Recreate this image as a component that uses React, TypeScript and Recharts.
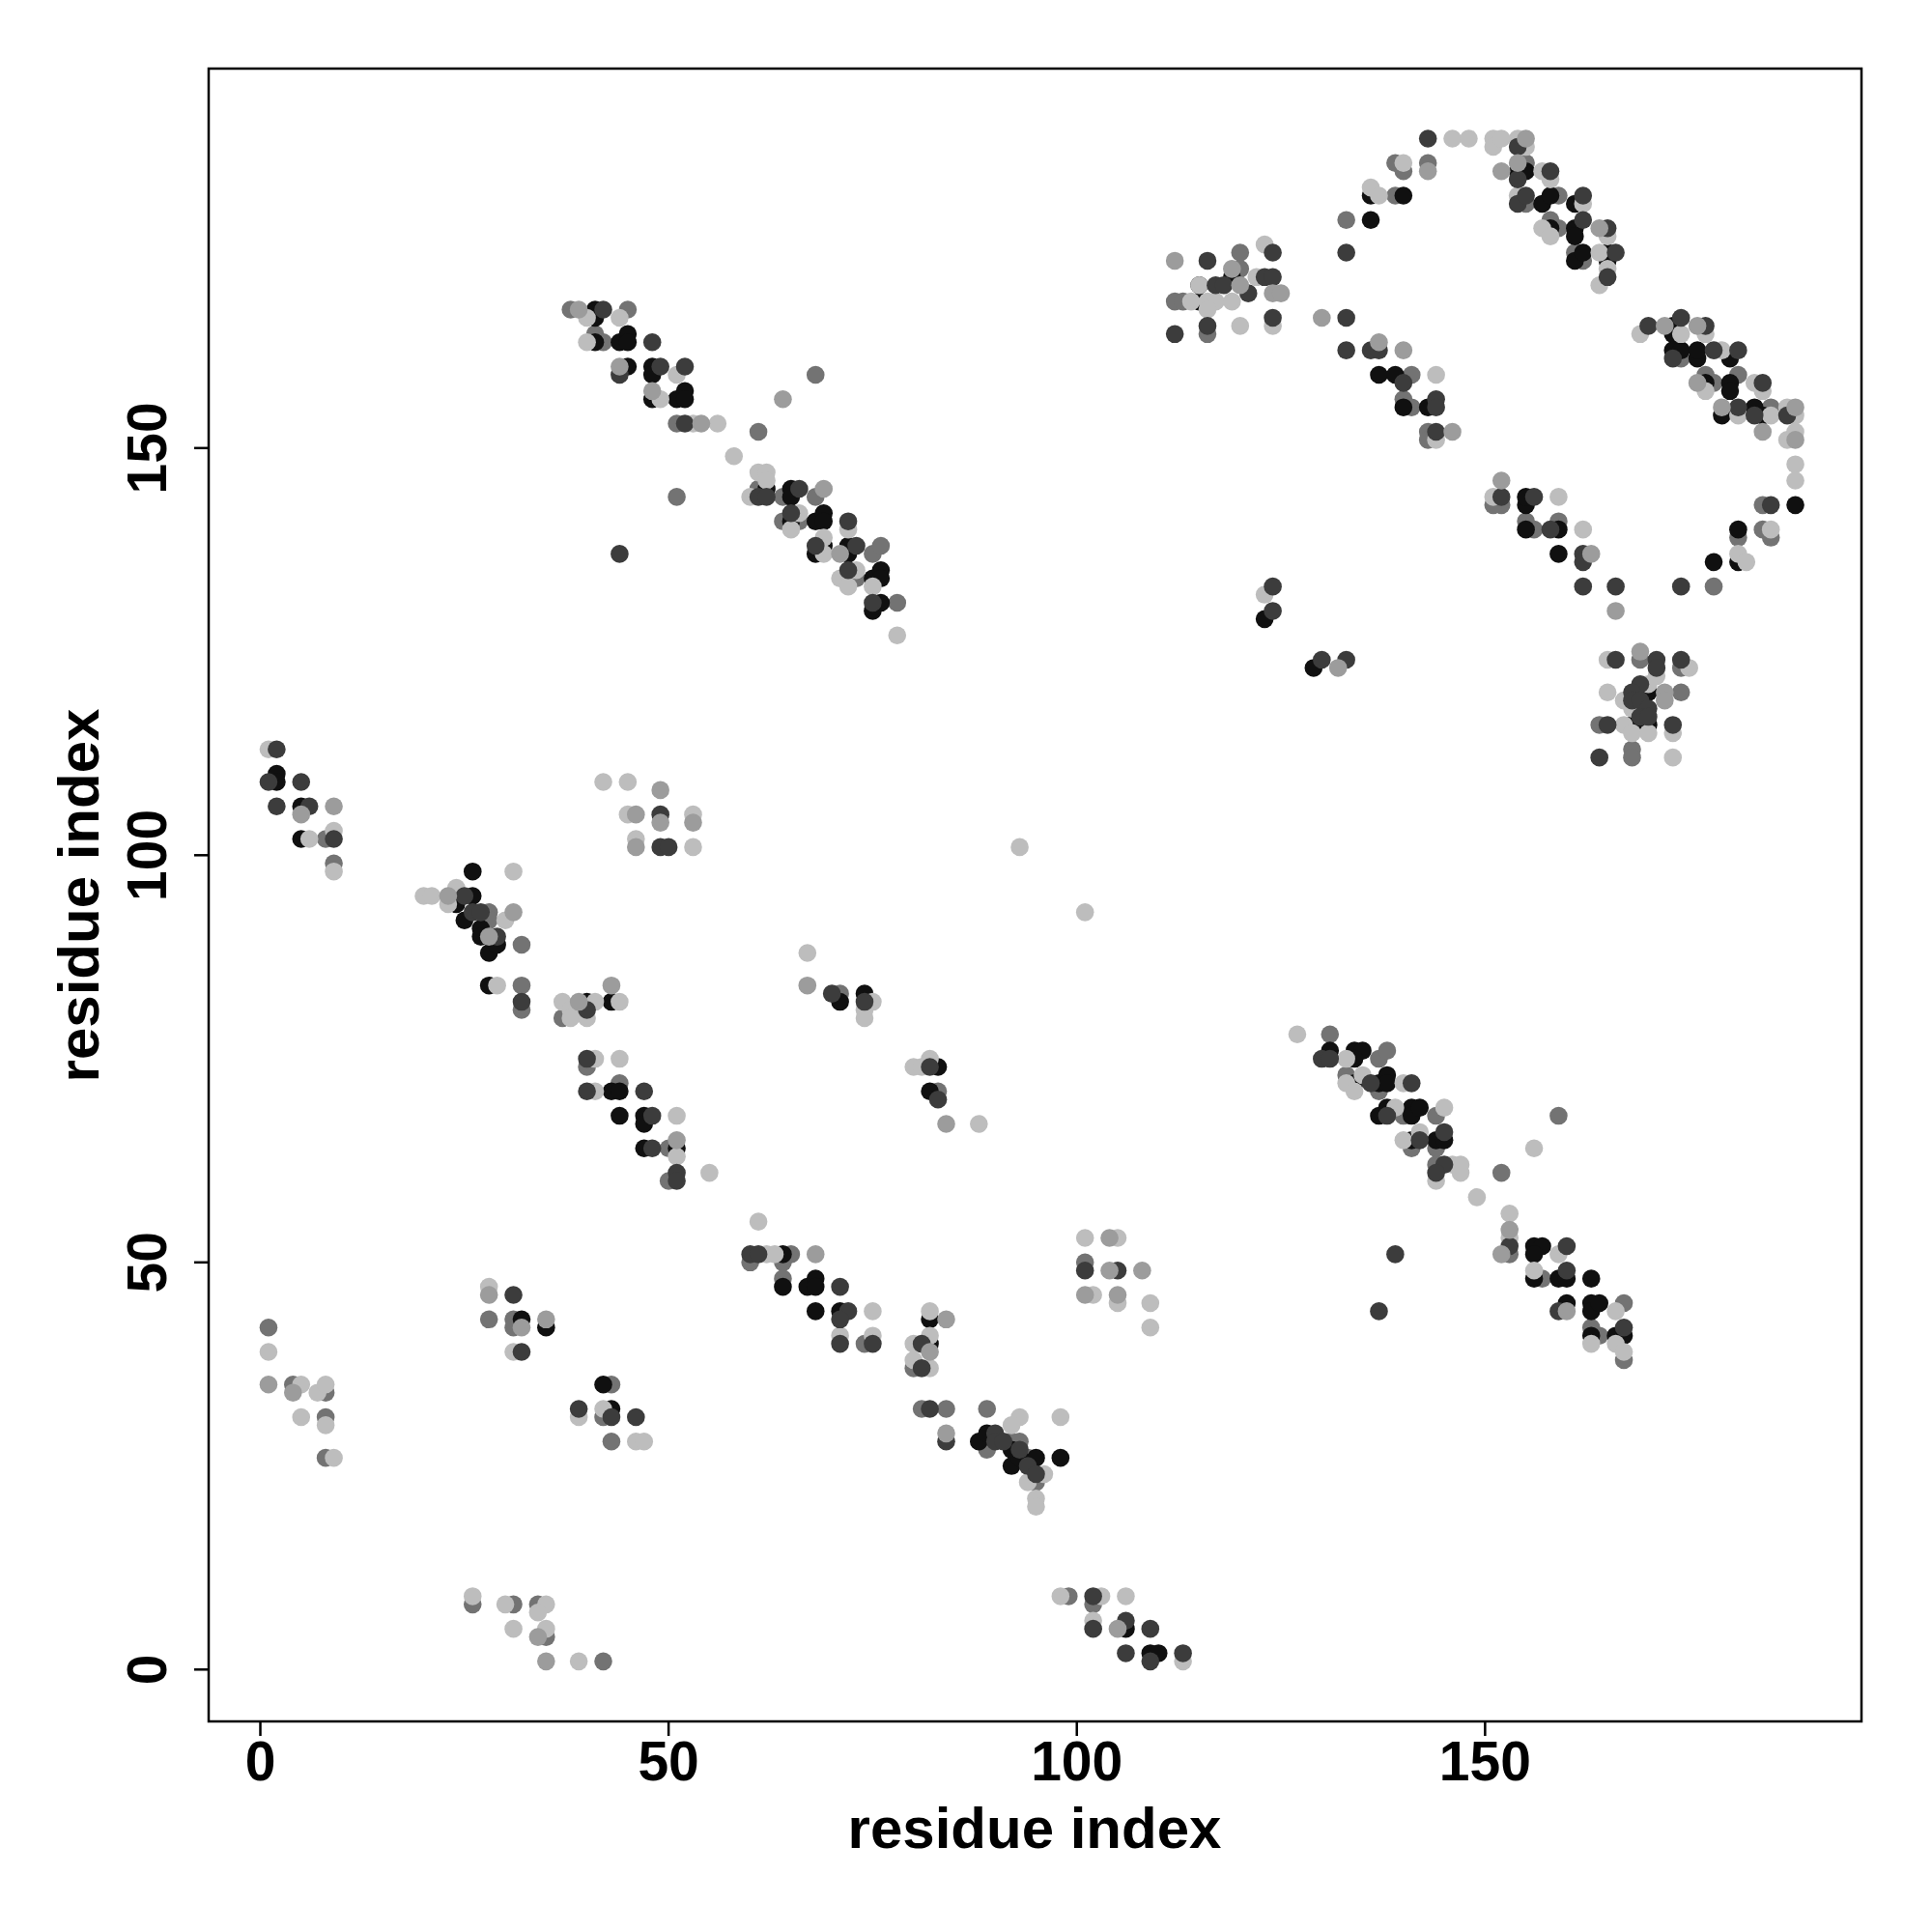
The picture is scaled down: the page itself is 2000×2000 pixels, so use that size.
import React from "react"
import { ScatterChart, Scatter, XAxis, YAxis, ReferenceArea } from "recharts"

// contact points, grouped by grey level (0 = darkest)
const shade0: [number, number][] = [
  [41,167],[41,166],[41,163],[44,163],[45,164],[45,163],[45,160],[48,160],[48,159],[48,156],[51,156],[52,157],[52,156],
  [62,145],[65,145],[65,144],[65,141],[68,141],[69,142],[69,141],[69,138],[68,137],[72,138],[72,137],[75,134],[76,135],[76,134],[76,131],[75,130],
  [115,170],[119,171],[115,168],[123,129],[129,123],
  [154,184],[155,184],[136,181],[140,181],[136,178],[157,180],[158,181],[161,180],[158,177],[161,177],[161,176],[161,173],[162,174],[165,174],[165,173],
  [137,159],[139,159],[140,155],[143,155],
  [173,165],[173,164],[173,162],[174,162],[176,161],[176,162],[180,161],[177,158],[180,158],[180,157],[179,154],[183,155],[184,154],[188,143],[181,140],
  [155,143],[155,144],[155,140],[159,140],[159,137],[181,136],[178,136],
  [170,120],[168,116],[170,116],
  [2,110],[2,109],[5,106],[5,102],
  [26,98],[26,95],[24,94],[25,92],[27,91],[27,90],[28,88],[29,89],[28,84],
  [40,82],[43,82],[43,71],[44,71],[44,68],[47,68],[47,67],[47,64],[51,64],
  [32,43],[35,42],[42,35],[43,32],
  [64,51],[64,47],[67,47],[68,48],[68,47],[68,44],[71,44],
  [71,82],[74,83],[83,74],[82,71],
  [82,43],[82,40],[88,28],[89,29],[92,27],[92,25],[93,26],[95,26],[98,26],
  [106,5],[109,2],[110,2],
  [131,76],[134,76],[135,76],[134,75],[134,72],[137,72],[138,73],[138,72],[137,68],[138,69],[141,69],[141,68],[142,69],[141,65],[144,65],[145,65],
  [156,52],[157,52],[156,51],[156,48],[159,48],[160,48],[163,48],[160,45],[163,45],[163,44],[164,45],[163,41],[166,41],[167,41],
]

const shade1: [number, number][] = [
  [42,167],[48,163],[44,159],[49,160],[52,160],[52,153],[44,137],
  [61,144],[62,144],[66,145],[65,142],[72,141],[68,138],[73,138],[72,135],[75,131],
  [116,173],[124,174],[123,171],[124,171],[117,170],[118,170],[121,169],[124,166],[116,165],[112,164],
  [124,133],[124,130],[130,124],[133,124],
  [143,188],[154,187],[158,184],[154,183],[133,174],[154,180],[155,181],[162,181],[162,178],[165,177],[166,174],[165,171],
  [133,166],[133,162],[136,162],[137,162],[140,158],[144,156],[144,155],[144,152],
  [170,165],[174,166],[177,165],[173,161],[178,162],[181,162],[184,158],[181,155],[183,154],[187,154],[185,143],
  [152,144],[156,144],[158,140],[162,137],[162,136],[174,133],[162,133],[166,133],
  [166,124],[171,124],[171,123],[174,124],[169,121],[168,120],[168,119],[169,119],[170,118],[169,117],[170,117],[165,116],[173,116],[164,112],
  [2,113],[1,109],[5,109],[2,106],[6,106],[9,102],
  [49,105],[49,101],[50,101],
  [25,95],[26,93],[27,93],[29,90],[32,82],
  [40,81],[40,75],[40,71],[47,71],[48,68],[48,64],[51,61],[51,60],
  [60,51],[61,51],[71,47],[72,44],[71,43],[71,40],[75,40],
  [31,46],[32,39],[39,32],[43,31],[46,31],
  [70,83],[74,82],[82,74],[83,70],
  [81,40],[81,37],[82,32],[84,28],[90,29],[90,28],[91,28],[93,27],[94,25],[95,24],
  [101,49],[105,49],
  [102,9],[102,5],[106,6],[109,5],[106,2],[109,1],[113,2],
  [130,75],[131,75],[136,72],[141,72],[138,68],[142,65],[145,66],[145,62],[144,61],
  [139,51],[137,44],
  [153,52],[160,52],[160,49],[159,44],[167,42],
]

const shade2: [number, number][] = [
  [38,167],[41,164],[42,163],[45,167],[51,153],[51,144],
  [61,145],[68,144],[64,144],[64,141],[66,141],[75,137],[76,138],[73,134],[78,131],[61,152],[68,159],
  [120,174],[120,172],[112,168],[113,168],[116,164],
  [139,185],[140,184],[143,185],[155,185],[139,181],[133,178],[155,180],[159,181],[158,178],[159,177],[161,174],[162,173],
  [141,159],[140,156],[141,155],[143,152],[143,151],
  [174,161],[177,159],[178,158],[181,159],[185,155],[184,143],[184,140],[181,139],[185,139],
  [152,143],[151,143],[155,141],[156,140],[159,141],[178,133],
  [169,124],[174,123],[174,120],[164,116],[168,113],[168,112],
  [8,102],[9,99],
  [28,93],[28,92],[32,89],[32,84],[32,81],
  [37,80],[40,74],[44,72],[50,64],[50,60],
  [60,50],[65,51],[64,50],[64,48],[74,40],
  [28,43],[31,43],[31,42],
  [1,42],[4,35],[8,34],[8,31],[8,26],
  [43,35],[42,31],[43,28],
  [26,8],[31,8],[34,8],[35,4],[42,1],
  [71,83],[83,71],
  [80,37],[81,32],[84,32],[89,32],[89,27],[92,28],[93,28],[94,26],[95,23],
  [101,50],[99,9],[102,8],
  [131,78],[137,75],[138,76],[133,73],[137,71],[140,68],[144,68],[141,64],[144,64],[144,62],[152,61],[159,68],
  [153,51],[157,48],[167,45],[163,42],[164,41],[167,38],
]

const shade3: [number, number][] = [
  [39,167],[44,160],[48,157],[54,153],
  [69,145],[71,137],[64,156],
  [112,173],[119,172],[120,170],[124,169],[125,169],
  [132,123],
  [155,188],[143,184],[152,184],[154,185],[164,177],
  [130,166],[137,163],[140,162],[146,152],
  [172,165],[176,165],[176,158],[179,155],[188,155],[184,152],[188,151],
  [152,146],[163,137],[166,130],
  [169,125],[172,120],[172,119],
  [5,105],[9,106],
  [49,108],[46,105],[49,104],[53,104],[46,101],
  [23,95],[31,93],[28,90],
  [39,82],[43,84],[51,65],
  [68,51],
  [28,46],[32,42],[35,43],
  [1,35],[4,34],
  [34,4],[35,1],
  [67,84],[84,67],
  [84,43],[82,39],[84,29],
  [104,49],[108,49],[101,46],[105,46],[104,53],
  [105,5],
  [153,54],[152,51],[160,44],
]

const shade4: [number, number][] = [
  [40,166],[44,166],[40,163],[51,159],[49,156],[53,153],[56,153],[58,149],[61,147],[62,147],[62,146],[60,144],
  [65,140],[66,142],[72,140],[69,139],[69,137],[71,134],[72,133],[73,135],[75,133],[78,127],
  [115,170],[114,168],[116,168],[117,168],[119,168],[116,167],[122,171],[123,175],[124,165],[120,165],
  [123,132],
  [146,188],[148,188],[151,188],[151,187],[152,188],[154,188],[155,187],[140,185],[157,184],[158,183],[136,182],[137,181],
  [154,181],[162,180],[157,177],[158,176],[165,176],[164,174],[165,172],[164,170],
  [144,159],[144,151],
  [169,164],[174,164],[177,164],[179,162],[177,157],[183,158],[184,157],[181,154],[185,154],[187,155],[188,154],
  [187,151],[188,152],[188,148],[188,146],[185,140],
  [151,144],[159,144],[162,140],[181,137],[182,136],
  [165,124],[175,123],[171,122],[170,121],[165,120],[167,119],[168,118],[167,116],[168,115],[170,115],[173,115],[173,112],
  [1,113],[6,102],[9,103],[9,98],
  [42,109],[45,109],[45,105],[53,105],[46,102],[53,101],
  [31,98],[20,95],[21,95],[24,96],[23,94],[30,92],[29,84],
  [37,82],[38,81],[38,80],[40,80],[41,82],[44,82],[41,75],[44,75],[41,71],[51,68],[51,63],[55,61],[61,55],[62,51],
  [63,51],[75,44],[71,41],[75,41],
  [28,47],[31,39],
  [1,39],[5,35],[7,34],[8,35],[5,31],[8,30],[9,26],
  [39,31],[42,32],[46,28],[47,28],
  [26,9],[30,8],[35,8],[34,7],[31,5],[35,5],[39,1],
  [67,88],[75,82],[74,81],[74,80],[80,74],[81,74],[82,75],[88,67],
  [82,44],[82,41],[80,40],[80,38],[82,37],[93,31],[92,30],[98,31],[96,24],[94,23],[95,21],[95,20],
  [93,101],[101,93],
  [101,53],[105,53],[102,46],[105,45],[109,45],[109,42],
  [98,9],[103,9],[106,9],[102,6],[113,1],
  [127,78],[133,75],[133,72],[134,71],[135,73],[140,72],[139,69],[145,69],[140,65],[142,66],[144,60],
  [146,62],[147,62],[147,61],[149,58],[156,64],
  [153,56],[153,53],[159,51],[156,49],[166,44],[163,40],[166,40],[167,39],
]

const ticks = [0, 50, 100, 150]
const xDomain: [number, number] = [-6.33, 196.1]
const yDomain: [number, number] = [-6.37, 196.6]

const FONT = "'Liberation Sans', Arial, Helvetica, sans-serif"

const layers: { pts: [number, number][]; color: string }[] = [
  { pts: shade2, color: "#737373" },
  { pts: shade0, color: "#101010" },
  { pts: shade4, color: "#bdbdbd" },
  { pts: shade1, color: "#3c3c3c" },
  { pts: shade3, color: "#9c9c9c" },
]

function XTick(props: any) {
  const { x, y, payload } = props
  return (
    <text x={x} y={y + 44} textAnchor="middle" fontFamily={FONT} fontWeight="bold" fontSize={57} fill="#000">
      {payload.value}
    </text>
  )
}

function YTick(props: any) {
  const { x, y, payload } = props
  const bx = x - 27
  return (
    <text x={bx} y={y} transform={`rotate(-90, ${bx}, ${y})`} textAnchor="middle" fontFamily={FONT} fontWeight="bold" fontSize={57} fill="#000">
      {payload.value}
    </text>
  )
}

export default function App() {
  return (
    <div style={{ position: "absolute", left: 0, top: 0, width: 2000, height: 2000, background: "#fff" }}>
      <ScatterChart width={2000} height={2000} margin={{ top: 71, right: 73, bottom: 98, left: 0 }}>
        <XAxis type="number" dataKey="x" domain={xDomain} ticks={ticks} allowDataOverflow
          axisLine={false} tickLine={{ stroke: "#000", strokeWidth: 2.5 }} tickSize={15} height={120} tick={<XTick />} />
        <YAxis type="number" dataKey="y" domain={yDomain} ticks={ticks} allowDataOverflow
          axisLine={false} tickLine={{ stroke: "#000", strokeWidth: 2.5 }} tickSize={15} width={216} tick={<YTick />} />
        {layers.map((l, i) => (
          <Scatter
            key={i}
            data={l.pts.map(([x, y]) => ({ x, y }))}
            isAnimationActive={false}
            shape={(p: any) => <circle cx={p.cx} cy={p.cy} r={9.3} fill={l.color} />}
          />
        ))}
        <ReferenceArea x1={xDomain[0]} x2={xDomain[1]} y1={yDomain[0]} y2={yDomain[1]} fill="none" fillOpacity={0} stroke="#000" strokeWidth={2.5} />
      </ScatterChart>
      <svg width={2000} height={2000} style={{ position: "absolute", left: 0, top: 0, pointerEvents: "none" }}>
        <text x={1071} y={1913} textAnchor="middle" fontFamily={FONT} fontWeight="bold" fontSize={60}>residue index</text>
        <text x={102} y={927} transform="rotate(-90, 102, 927)" textAnchor="middle" fontFamily={FONT} fontWeight="bold" fontSize={60}>residue index</text>
      </svg>
    </div>
  )
}
